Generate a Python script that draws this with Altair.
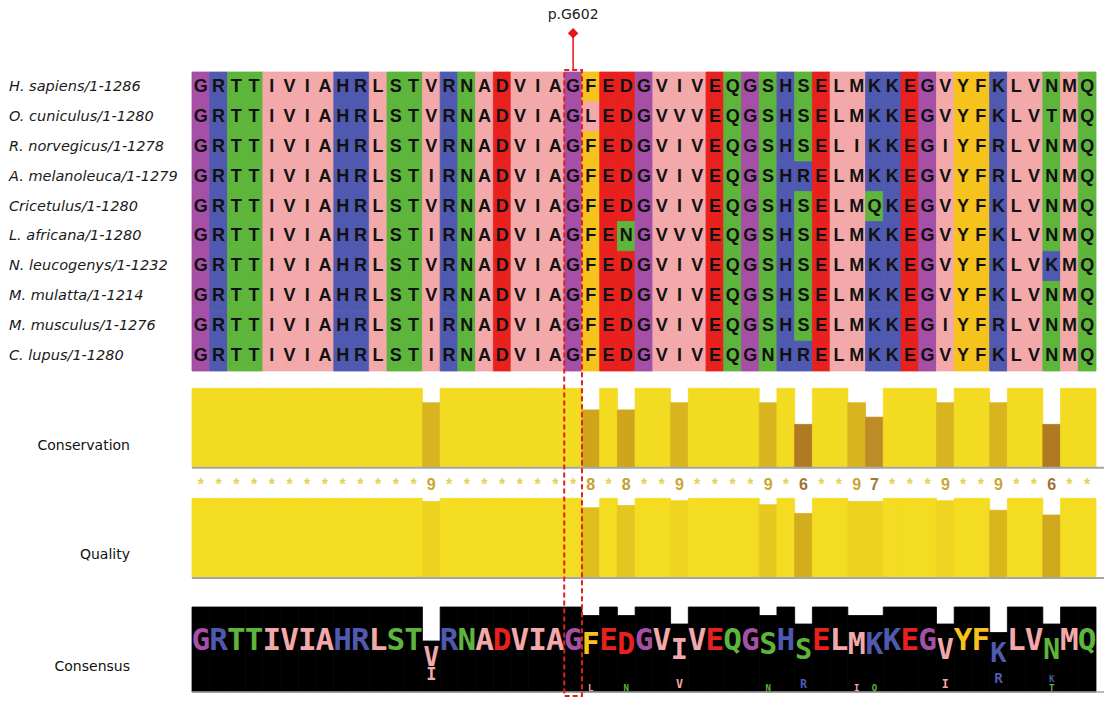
import altair as alt
import pandas as pd
from collections import Counter

# ---------------- data ----------------
species = [
    "H. sapiens/1-1286",
    "O. cuniculus/1-1280",
    "R. norvegicus/1-1278",
    "A. melanoleuca/1-1279",
    "Cricetulus/1-1280",
    "L. africana/1-1280",
    "N. leucogenys/1-1232",
    "M. mulatta/1-1214",
    "M. musculus/1-1276",
    "C. lupus/1-1280",
]
sequences = [
    "GRTTIVIAHRLSTVRNADVIAGFEDGVIVEQGSHSELMKKEGVYFKLVNMQ",
    "GRTTIVIAHRLSTVRNADVIAGLEDGVVVEQGSHSELMKKEGVYFKLVTMQ",
    "GRTTIVIAHRLSTVRNADVIAGFEDGVIVEQGSHSELIKKEGIYFRLVNMQ",
    "GRTTIVIAHRLSTIRNADVIAGFEDGVIVEQGSHRELMKKEGVYFRLVNMQ",
    "GRTTIVIAHRLSTVRNADVIAGFEDGVIVEQGSHSELMQKEGVYFKLVNMQ",
    "GRTTIVIAHRLSTIRNADVIAGFENGVVVEQGSHSELMKKEGVYFKLVNMQ",
    "GRTTIVIAHRLSTVRNADVIAGFEDGVIVEQGSHSELMKKEGVYFKLVKMQ",
    "GRTTIVIAHRLSTVRNADVIAGFEDGVIVEQGSHSELMKKEGVYFKLVNMQ",
    "GRTTIVIAHRLSTIRNADVIAGFEDGVIVEQGSHSELMKKEGIYFRLVNMQ",
    "GRTTIVIAHRLSTIRNADVIAGFEDGVIVEQGNHRELMKKEGVYFKLVNMQ",
]
conservation = list("*************9********8*8**9****9*6**97***9**9**6**")
quality = [100, 100, 100, 100, 100, 100, 100, 100, 100, 100,
           100, 100, 100, 96, 100, 100, 100, 100, 100, 100,
           100, 100, 88, 100, 91, 100, 100, 97, 100, 100,
           100, 100, 92, 100, 81, 100, 100, 96, 96, 100,
           100, 100, 97, 100, 100, 85, 100, 100, 79, 100,
           100]
marker_col = 22
marker_label = "p.G602"
track_labels = ["Conservation", "Quality", "Consensus"]

# ---------------- styles ----------------
PURPLE, BLUE, GREEN, PINK, RED, YELLOW = "#A64FA6", "#5059B0", "#5DB53B", "#F3A9AA", "#E8201E", "#F6C21C"
res_colors = {
    "G": PURPLE,
    "R": BLUE, "K": BLUE, "H": BLUE,
    "T": GREEN, "S": GREEN, "N": GREEN, "Q": GREEN,
    "A": PINK, "I": PINK, "L": PINK, "M": PINK, "V": PINK,
    "D": RED, "E": RED,
    "F": YELLOW, "Y": YELLOW,
}
cons_levels = [6, 7, 8, 9, 11]
cons_bar_colors = ["#B07A22", "#BD8C26", "#CFA51C", "#D8B51F", "#F3DB22"]
cons_sym_colors = ["#9E7230", "#A4782E", "#C49E2E", "#C9A630", "#E3D25A"]

n_rows = len(sequences)
n_cols = len(sequences[0])
W, H = 904, 624

# ---------------- tables ----------------
cells = pd.DataFrame(
    [{"row": r, "col": c + 1, "res": s[c]} for r, s in enumerate(sequences) for c in range(n_cols)]
)
cells["x0"] = cells["col"] - 0.5
cells["x1"] = cells["col"] + 0.5
cells["r1"] = cells["row"] + 1
cells["rm"] = cells["row"] + 0.5

names = pd.DataFrame({"name": species, "rm": [i + 0.5 for i in range(n_rows)]})

cons = pd.DataFrame({"col": list(range(1, n_cols + 1)), "sym": conservation})
cons["score"] = [11 if s == "*" else int(s) for s in conservation]
cons["x0"] = cons["col"] - 0.5
cons["x1"] = cons["col"] + 0.5

qual = pd.DataFrame({"col": list(range(1, n_cols + 1)), "q": quality})
qual["x0"] = qual["col"] - 0.5
qual["x1"] = qual["col"] + 0.5

main_rows, sec_rows = [], []
for c in range(n_cols):
    counts = Counter(s[c] for s in sequences).most_common()
    top_res, top_n = counts[0]
    pct = top_n * 100 / n_rows
    main_rows.append({"col": c + 1, "x0": c + 0.5, "x1": c + 1.5, "res": top_res,
                      "pct": pct, "mid": (pct + 20) / 2})
    base = 0.0
    for res, n in sorted(counts[1:], key=lambda t: t[1]):
        f = n * 100 / n_rows
        sec_rows.append({"col": c + 1, "res": res, "f": f, "mid": base + f / 2})
        base += f
cmain = pd.DataFrame(main_rows)
csec = pd.DataFrame(sec_rows)

marker = pd.DataFrame({"col": [marker_col], "x0": [marker_col - 0.5], "x1": [marker_col + 0.5],
                       "label": [marker_label]})
one = pd.DataFrame({"k": [0]})

# ---------------- scales ----------------
xs = alt.Scale(domain=[0.5, n_cols + 0.5], nice=False, zero=False)
ya = alt.Scale(domain=[0, n_rows], range=[0, 299], nice=False, zero=False)
yc = alt.Scale(domain=[0, 11], range=[395.7, 316.3], nice=False)
yq = alt.Scale(domain=[0, 100], range=[506, 426.3], nice=False)
yk = alt.Scale(domain=[0, 100], range=[620, 535], nice=False)


def res_scale():
    return alt.Scale(domain=list(res_colors.keys()), range=list(res_colors.values()))


def X(f):
    return alt.X(f, type="quantitative", scale=xs, axis=None)


# ---------------- alignment ----------------
cell_rects = alt.Chart(cells).mark_rect(strokeWidth=0.8).encode(
    x=X("x0"), x2="x1",
    y=alt.Y("row:Q", scale=ya, axis=None), y2="r1",
    color=alt.Color("res:N", scale=res_scale(), legend=None),
    stroke=alt.Stroke("res:N", scale=res_scale(), legend=None),
)
cell_text = alt.Chart(cells).mark_text(
    font="Liberation Sans", fontSize=18, fontWeight="bold", color="#111111", baseline="middle"
).encode(x=X("col"), y=alt.Y("rm:Q", scale=ya, axis=None), text="res:N")

name_text = alt.Chart(names).mark_text(
    align="left", baseline="middle", font="DejaVu Sans", fontStyle="italic", fontSize=14.5, color="#1a1a1a"
).encode(x=alt.value(-183), y=alt.Y("rm:Q", scale=ya, axis=None), text="name:N")

# ---------------- conservation ----------------
cons_bars = alt.Chart(cons).mark_rect(strokeWidth=0.8).encode(
    x=X("x0"), x2="x1",
    y=alt.Y("score:Q", scale=yc, axis=None), y2=alt.datum(0),
    color=alt.Color("score:O", scale=alt.Scale(domain=cons_levels, range=cons_bar_colors), legend=None),
    stroke=alt.Stroke("score:O", scale=alt.Scale(domain=cons_levels, range=cons_bar_colors), legend=None),
)
cons_sym = alt.Chart(cons).mark_text(
    font="Liberation Sans", fontSize=16, fontWeight="bold", baseline="middle"
).encode(
    x=X("col"), y=alt.value(413), text="sym:N",
    color=alt.Color("score:O", scale=alt.Scale(domain=cons_levels, range=cons_sym_colors), legend=None),
)
cons_base = alt.Chart(one).mark_rule(color="#A6A6A6", strokeWidth=2).encode(
    x=alt.value(0), x2=alt.value(912), y=alt.YDatum(0, scale=yc, axis=None)
)

# ---------------- quality ----------------
qual_bars = alt.Chart(qual).mark_rect(strokeWidth=0.8).encode(
    x=X("x0"), x2="x1",
    y=alt.Y("q:Q", scale=yq, axis=None), y2=alt.datum(0),
    color=alt.Color("q:Q", scale=alt.Scale(domain=[79, 100], range=["#CFA81C", "#F4DC22"]), legend=None),
    stroke=alt.Stroke("q:Q", scale=alt.Scale(domain=[79, 100], range=["#CFA81C", "#F4DC22"]), legend=None),
)
qual_base = alt.Chart(one).mark_rule(color="#A6A6A6", strokeWidth=2).encode(
    x=alt.value(0), x2=alt.value(912), y=alt.YDatum(0, scale=yq, axis=None)
)

# ---------------- consensus ----------------
cons_black = alt.Chart(cmain).mark_rect(color="#000000", stroke="#000000", strokeWidth=0.8).encode(
    x=X("x0"), x2="x1", y=alt.Y("pct:Q", scale=yk, axis=None), y2=alt.datum(0)
)
cons_main = alt.Chart(cmain).mark_text(
    font="DejaVu Sans Mono", fontWeight="bold", baseline="middle"
).encode(
    x=X("col"), y=alt.Y("mid:Q", scale=yk, axis=None), text="res:N",
    color=alt.Color("res:N", scale=res_scale(), legend=None),
    size=alt.Size("pct:Q", scale=alt.Scale(domain=[60, 100], range=[26, 31]), legend=None),
)
cons_sec = alt.Chart(csec).mark_text(
    font="DejaVu Sans Mono", fontWeight="bold", baseline="middle"
).encode(
    x=X("col"), y=alt.Y("mid:Q", scale=yk, axis=None), text="res:N",
    color=alt.Color("res:N", scale=res_scale(), legend=None),
    size=alt.Size("f:Q", scale=alt.Scale(domain=[10, 40], range=[9, 17]), legend=None),
)
cons_kbase = alt.Chart(one).mark_rule(color="#A6A6A6", strokeWidth=1.5).encode(
    x=alt.value(0), x2=alt.value(912), y=alt.YDatum(0, scale=yk, axis=None)
)

# ---------------- track labels ----------------
label_layers = []
for lab, ypix in zip(track_labels, [373.7, 483, 594.7]):
    label_layers.append(
        alt.Chart(pd.DataFrame({"t": [lab]})).mark_text(
            align="right", baseline="middle", font="DejaVu Sans", fontSize=14, color="#111111"
        ).encode(x=alt.value(-62), y=alt.value(ypix), text="t:N")
    )

# ---------------- marker ----------------
box = alt.Chart(marker).mark_rect(
    fillOpacity=0, stroke="#E0201E", strokeWidth=2, strokeDash=[5, 3]
).encode(x=X("x0"), x2="x1", y=alt.value(-2), y2=alt.value(H))
stem = alt.Chart(marker).mark_rule(color="#E8141C", strokeWidth=1.5).encode(
    x=X("col"), y=alt.value(-38.7), y2=alt.value(-2)
)
diamond = alt.Chart(marker).mark_point(
    shape="diamond", filled=True, size=110, color="#E8141C", opacity=1
).encode(x=X("col"), y=alt.value(-38.7))
mtext = alt.Chart(marker).mark_text(
    font="DejaVu Sans", fontSize=14, color="#222222", baseline="middle"
).encode(x=X("col"), y=alt.value(-57), text="label:N")

chart = alt.layer(
    cell_rects, cell_text, name_text,
    cons_bars, cons_base, cons_sym,
    qual_bars, qual_base,
    cons_black, cons_kbase, cons_main, cons_sec,
    *label_layers,
    box, stem, diamond, mtext,
).resolve_scale(
    y="independent", color="independent", size="independent", stroke="independent"
).properties(
    width=W, height=H,
    padding={"left": 184, "top": 64, "right": 8, "bottom": 2},
    autosize=alt.AutoSizeParams(type="none"),
    background="#FFFFFF",
).configure_view(strokeWidth=0)

chart.save("out.html", embed_options={"renderer": "svg", "actions": False})
